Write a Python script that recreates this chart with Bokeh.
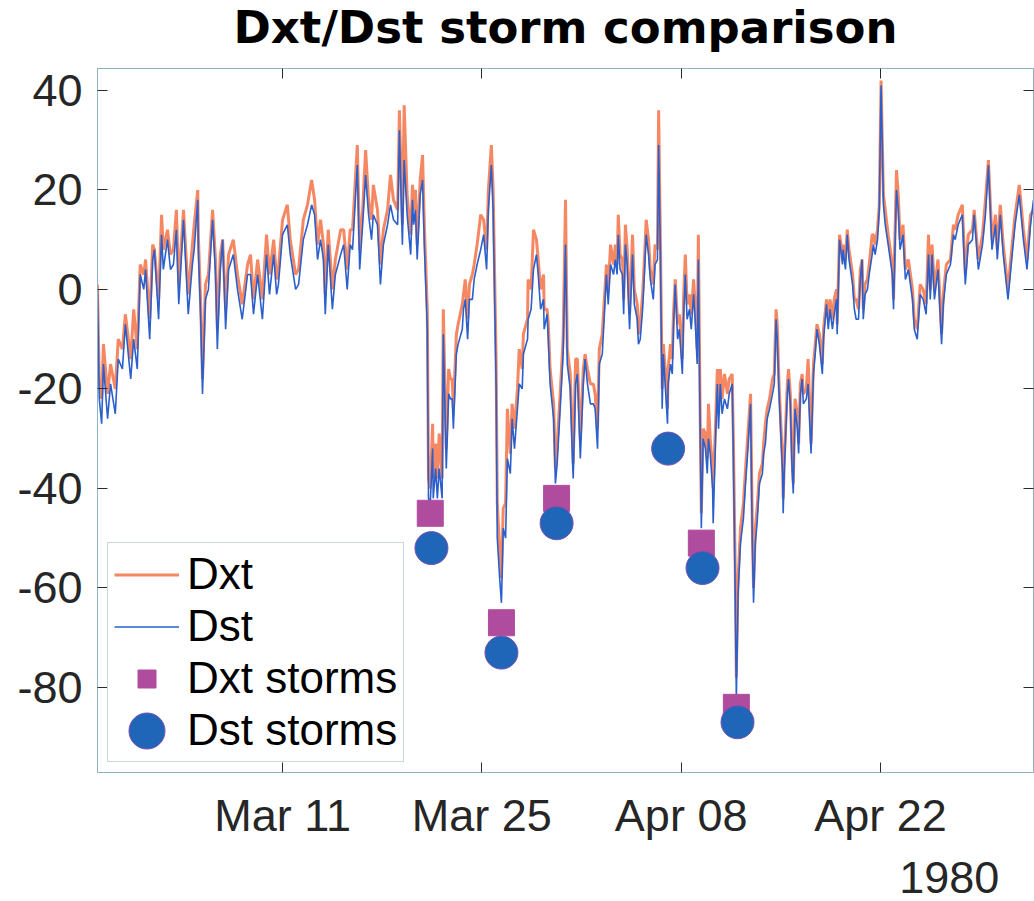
import pandas as pd
from bokeh.plotting import figure
from bokeh.models import (Range1d, FixedTicker, DatetimeTickFormatter, LinearAxis, DatetimeAxis,
                          Legend, LegendItem, ColumnDataSource)
from bokeh.embed import file_html
from bokeh.resources import INLINE

# ---------------- data ----------------
start = "1980-02-27 00:00"
# hours since start
hours = [
    0, 3, 7, 10, 17, 22, 30, 35, 42, 47, 56, 61, 67, 72, 78, 81, 88, 93, 96, 103,
    108, 111, 118, 123, 128, 133, 137, 145, 153, 160, 163, 169, 170, 174, 177, 182, 187, 194, 199, 202,
    207, 211, 216, 221, 229, 236, 244, 253, 258, 263, 270, 278, 285, 290, 297, 302, 305, 312, 320, 325,
    334, 339, 347, 354, 361, 366, 371, 376, 381, 384, 389, 396, 401, 410, 415, 421, 426, 430, 438, 442,
    447, 452, 457, 462, 465, 472, 477, 482, 489, 494, 499, 506, 509, 514, 517, 522, 528, 531, 533, 536,
    539, 544, 548, 551, 556, 558, 561, 565, 566, 570, 573, 576, 581, 583, 588, 592, 595, 598, 600, 605,
    608, 615, 617, 620, 624, 627, 632, 635, 640, 646, 651, 656, 659, 664, 667, 672, 674, 678, 681, 684,
    688, 691, 696, 699, 703, 708, 711, 716, 718, 725, 726, 731, 735, 740, 743, 747, 752, 753, 758, 760,
    763, 769, 772, 775, 780, 785, 789, 792, 797, 801, 802, 806, 809, 814, 819, 822, 826, 831, 836, 839,
    843, 846, 851, 855, 858, 861, 865, 870, 873, 876, 878, 881, 885, 887, 890, 893, 897, 902, 905, 910,
    912, 915, 919, 922, 925, 929, 932, 937, 940, 944, 946, 949, 952, 954, 957, 961, 962, 966, 969, 971,
    974, 978, 981, 986, 988, 991, 994, 998, 1001, 1005, 1008, 1011, 1013, 1016, 1018, 1021, 1025, 1028, 1030, 1033,
    1037, 1038, 1042, 1045, 1047, 1050, 1053, 1057, 1062, 1065, 1070, 1072, 1075, 1077, 1079, 1080, 1084, 1089, 1092, 1096,
    1101, 1104, 1106, 1109, 1112, 1116, 1121, 1123, 1126, 1129, 1133, 1138, 1141, 1144, 1146, 1149, 1155, 1156, 1158, 1163,
    1165, 1168, 1171, 1173, 1176, 1180, 1182, 1185, 1188, 1190, 1195, 1198, 1203, 1207, 1210, 1213, 1217, 1222, 1224, 1229,
    1232, 1235, 1239, 1242, 1246, 1247, 1251, 1256, 1257, 1261, 1264, 1267, 1273, 1276, 1279, 1283, 1286, 1289, 1291, 1294,
    1298, 1301, 1306, 1308, 1311, 1315, 1318, 1321, 1325, 1328, 1333, 1340, 1342, 1347, 1350, 1353, 1358, 1362, 1367, 1374,
    1377, 1382, 1387, 1392, 1397, 1401, 1404, 1407, 1411, 1417, 1423, 1426, 1431, 1438, 1443, 1446, 1451, 1458, 1463, 1468,
    1475, 1478, 1485, 1492, 1497, 1502, 1508, 1514, 1517, 1522, 1527, 1535, 1542, 1547, 1554, 1561, 1567, 1573, 1578,
]
dst = [
    0, -22, -27, -15, -26, -19, -25, -14, -16, -7, -18, -10, -16, 3, 0, 4, -10, 6, 8, -6,
    11, 4, 10, 4, 5, 12, -3, 14, -5, 5, 8, 18, 8, -6, -21, -2, 0, 14, 3, -12,
    4, 10, -8, 4, 7, 0, -6, 3, 3, -5, 3, -6, 7, -1, 7, -1, 1, 11, 13, 7,
    0, 1, 10, 13, 17, 15, 6, 10, 6, -5, 9, -4, 3, 7, 9, 0, 9, 8, 25, 4,
    13, 23, 15, 10, 15, 13, 1, 9, 13, 17, 14, 13, 32, 9, 26, 15, 7, 18, 13, 16,
    6, 19, 22, 9, -8, -42, -43, -32, -42, -36, -42, -36, -42, -9, -36, -21, -22, -22, -28, -13,
    -11, -8, -4, -2, -10, -2, -2, 2, 5, 8, 11, 4, 16, 25, 16, -19, -50, -58, -63, -48,
    -50, -34, -37, -26, -32, -24, -19, -20, -13, -10, -6, -4, 4, 7, 3, -4, -2, -8, -5, -10,
    -19, -26, -39, -35, -24, -13, 9, -15, -20, -35, -38, -19, -17, -34, -19, -14, -19, -23, -23, -24,
    -32, -15, -13, -4, 3, -3, 5, 3, 6, 3, 11, 4, 3, -5, 9, 5, -8, 7, -3, -6,
    -11, -10, -4, 3, 11, 7, 2, -2, 5, 6, 29, 7, -24, -13, -19, -27, -19, -15, -17, -8,
    1, -10, -8, -17, -6, 3, -6, -4, -8, -1, -7, -15, 6, -28, -48, -30, -32, -37, -30, -33,
    -40, -47, -30, -19, -28, -19, -25, -22, -24, -21, -19, -33, -60, -82, -69, -61, -51, -46, -40, -33,
    -23, -51, -63, -51, -47, -39, -37, -33, -31, -26, -24, -21, -19, -6, -10, -21, -37, -45, -36, -21,
    -18, -23, -36, -41, -24, -28, -33, -21, -18, -23, -22, -19, -33, -17, -13, -8, -11, -17, -10, -3,
    -8, -4, -8, -5, -2, -9, 10, 5, 8, 4, 11, 6, 1, -4, -6, -6, 2, 6, -6, -1,
    0, 3, 7, 9, 7, 10, 16, 41, 17, 13, 9, 3, -4, 20, 16, 8, 11, 2, 4, -2,
    -8, -10, -1, -2, -5, 7, -2, 7, -2, 4, -11, -3, 3, 5, 11, 10, 13, 15, 1, 9,
    10, 15, 4, 9, 15, 25, 8, 13, 6, 15, 7, -2, 7, 13, 19, 10, 4, 13, 18,
]
dxt = [
    1, -19, -22, -11, -21, -15, -20, -10, -12, -5, -14, -4, -12, 5, 3, 6, -6, 9, 8, -2,
    15, 8, 12, 7, 8, 16, 1, 16, -1, 9, 13, 20, 11, -3, -18, 1, 3, 16, 6, -8,
    7, 10, -4, 7, 10, 3, -3, 5, 7, -2, 6, -2, 11, 3, 10, 2, 4, 14, 17, 10,
    3, 4, 14, 17, 22, 18, 9, 14, 9, -1, 12, 0, 6, 12, 12, 4, 12, 12, 29, 8,
    16, 28, 18, 14, 21, 16, 5, 12, 16, 23, 18, 16, 36, 13, 37, 19, 11, 21, 16, 20,
    9, 22, 27, 13, -4, -38, -40, -27, -38, -31, -38, -29, -38, -4, -32, -16, -18, -18, -24, -9,
    -7, -3, -1, 2, -6, 1, 3, 5, 9, 15, 14, 8, 20, 29, 20, -14, -43, -52, -58, -44,
    -43, -24, -33, -23, -28, -20, -12, -16, -9, -6, 2, 0, 12, 10, 6, 0, 3, -4, -4, -7,
    -16, -23, -36, -31, -21, -10, 18, -12, -17, -31, -35, -14, -14, -30, -16, -13, -16, -19, -19, -21,
    -28, -12, -9, -1, 5, 0, 9, 5, 9, 5, 15, 7, 6, -2, 13, 8, -5, 11, 0, -3,
    -9, -7, -1, 6, 14, 10, 4, 1, 9, 8, 36, 10, -20, -11, -16, -24, -16, -11, -14, -5,
    2, -7, -5, -14, -2, 7, -3, -1, -5, 2, -4, -12, 11, -25, -45, -28, -29, -34, -23, -30,
    -36, -40, -27, -16, -25, -16, -22, -17, -21, -18, -17, -30, -55, -78, -63, -58, -48, -43, -37, -30,
    -21, -48, -60, -48, -44, -37, -35, -31, -27, -24, -22, -18, -17, -4, -7, -19, -35, -42, -34, -19,
    -16, -21, -34, -39, -22, -25, -31, -19, -17, -21, -20, -14, -31, -15, -11, -7, -9, -15, -8, -2,
    -6, -2, -6, -2, 0, -7, 11, 7, 9, 6, 12, 8, 3, -2, -2, -4, 4, 6, -4, 1,
    2, 5, 11, 11, 9, 12, 17, 42, 19, 16, 11, 5, -2, 24, 19, 10, 13, 4, 6, 0,
    -6, -8, 1, 0, -3, 11, 0, 9, 0, 6, -9, -1, 5, 6, 13, 12, 15, 17, 3, 11,
    12, 16, 6, 11, 18, 26, 10, 15, 8, 17, 9, 0, 9, 15, 21, 12, 6, 15, 16,
]

dxt_storm_times = ["1980-03-21 09:00", "1980-03-26 09:00", "1980-03-30 06:00",
                   "1980-04-09 10:00", "1980-04-11 21:00"]
dxt_storm_values = [-45, -67, -42, -51, -84]
dst_storm_times = ["1980-03-21 11:00", "1980-03-26 09:00", "1980-03-30 06:00",
                   "1980-04-07 02:00", "1980-04-09 12:00", "1980-04-11 23:00"]
dst_storm_values = [-52, -73, -47, -32, -56, -87]

x_tick_dates = ["1980-03-11", "1980-03-25", "1980-04-08", "1980-04-22"]
year_tick_date = "1980-04-26 20:00"   # where MATLAB prints the year under the ticks
y_ticks = [-80, -60, -40, -20, 0, 20, 40]
y_tick_labels = ["-80", "-60", "-40", "-20", "0", "20", "40"]
x_end = "1980-05-02 18:00"
y_min, y_max = -97.1, 44.4
title_text = "Dxt/Dst storm comparison"

# ---------------- styling ----------------
FONT = "Liberation Sans"
TITLE_FONT = "DejaVu Sans"
SPINE = "#8fb2c6"
TICK = "#2b2b2b"
LABEL = "#262626"
ORANGE = "#F47B52"
BLUE = "#2a5fcc"
MAGENTA = "#B04C9E"
STORM_BLUE = "#1f66b8"

t0 = pd.Timestamp(start)
times = [t0 + pd.Timedelta(hours=h) for h in hours]
line_src = ColumnDataSource(dict(t=times, dst=dst, dxt=dxt))
sq_src = ColumnDataSource(dict(t=pd.to_datetime(dxt_storm_times), v=dxt_storm_values))
ci_src = ColumnDataSource(dict(t=pd.to_datetime(dst_storm_times), v=dst_storm_values))

def ms(s):
    return pd.Timestamp(s).value / 1e6

# canvas is 20px taller than the window; it is lifted by 20px so the title sits high
p = figure(width=1034, height=921, x_axis_type="datetime", output_backend="svg",
           toolbar_location=None,
           x_range=Range1d(ms(start), ms(x_end)), y_range=Range1d(y_min, y_max),
           min_border_left=97, min_border_right=1, min_border_top=88, min_border_bottom=129)
p.margin = (-20, 0, 0, 0)
p.background_fill_color = "white"
p.border_fill_color = "white"
p.outline_line_color = SPINE
p.xgrid.visible = False
p.ygrid.visible = False

p.title.text = title_text
p.title.align = "center"
p.title.text_font = TITLE_FONT
p.title.text_font_size = "45px"
p.title.text_font_style = "bold"
p.title.text_color = "black"
p.title.standoff = 30

xticker = FixedTicker(ticks=[ms(d) for d in x_tick_dates])
yticker = FixedTicker(ticks=y_ticks)
fmt = DatetimeTickFormatter(hours="%b %d", days="%b %d", months="%b %d", years="%b %d")

def style_axis(ax, labels=True):
    ax.axis_line_color = SPINE
    ax.major_tick_line_color = TICK
    ax.major_tick_in = 10
    ax.major_tick_out = 0
    ax.minor_tick_line_color = None
    if labels:
        ax.major_label_text_font = FONT
        ax.major_label_text_font_size = "45px"
        ax.major_label_text_color = LABEL
    else:
        ax.major_label_text_font_size = "1px"
        ax.major_label_text_color = None
        ax.major_label_standoff = 0

xa = p.xaxis[0]
xa.ticker = xticker
xa.formatter = fmt
style_axis(xa)
xa.major_label_standoff = 17

ya = p.yaxis[0]
ya.ticker = yticker
ya.major_label_overrides = {v: s for v, s in zip(y_ticks, y_tick_labels)}
style_axis(ya)
ya.major_label_standoff = 15

# year line printed under the date ticks (as MATLAB does)
yfmt = DatetimeTickFormatter(milliseconds="%Y", seconds="%Y", minsec="%Y", minutes="%Y",
                             hourmin="%Y", hours="%Y", days="%Y", months="%Y", years="%Y")
year_axis = DatetimeAxis(ticker=FixedTicker(ticks=[ms(year_tick_date)]), formatter=yfmt)
year_axis.axis_line_color = None
year_axis.major_tick_line_color = None
year_axis.major_tick_in = 0
year_axis.major_tick_out = 0
year_axis.minor_tick_line_color = None
year_axis.major_label_text_font = FONT
year_axis.major_label_text_font_size = "45px"
year_axis.major_label_text_color = LABEL
year_axis.major_label_standoff = 18
p.add_layout(year_axis, "below")

top = DatetimeAxis(ticker=xticker, formatter=fmt)
style_axis(top, labels=False)
p.add_layout(top, "above")
right = LinearAxis(ticker=yticker)
style_axis(right, labels=False)
p.add_layout(right, "right")

r_dxt = p.line("t", "dxt", source=line_src, line_color=ORANGE, line_width=3, line_alpha=0.9)
r_dst = p.line("t", "dst", source=line_src, line_color=BLUE, line_width=1.6)
r_sq = p.scatter("t", "v", source=sq_src, marker="square", size=26,
                 fill_color=MAGENTA, line_color=MAGENTA, line_width=1)
r_ci = p.ellipse("t", "v", source=ci_src, width=33, height=33,
                 width_units="screen", height_units="screen",
                 fill_color=STORM_BLUE, line_color="#7a4fb0", line_width=1)

legend = Legend(items=[LegendItem(label="Dxt", renderers=[r_dxt]),
                       LegendItem(label="Dst", renderers=[r_dst]),
                       LegendItem(label="Dxt storms", renderers=[r_sq]),
                       LegendItem(label="Dst storms", renderers=[r_ci])],
                location="bottom_left",
                label_text_font=FONT, label_text_font_size="44px", label_text_color="black",
                glyph_width=65, glyph_height=45, label_height=45, spacing=2,
                padding=6, margin=10, label_standoff=8,
                border_line_color=SPINE, border_line_width=1,
                background_fill_color="white", background_fill_alpha=1)
p.add_layout(legend)

open("out.html", "w").write(file_html(p, INLINE))
